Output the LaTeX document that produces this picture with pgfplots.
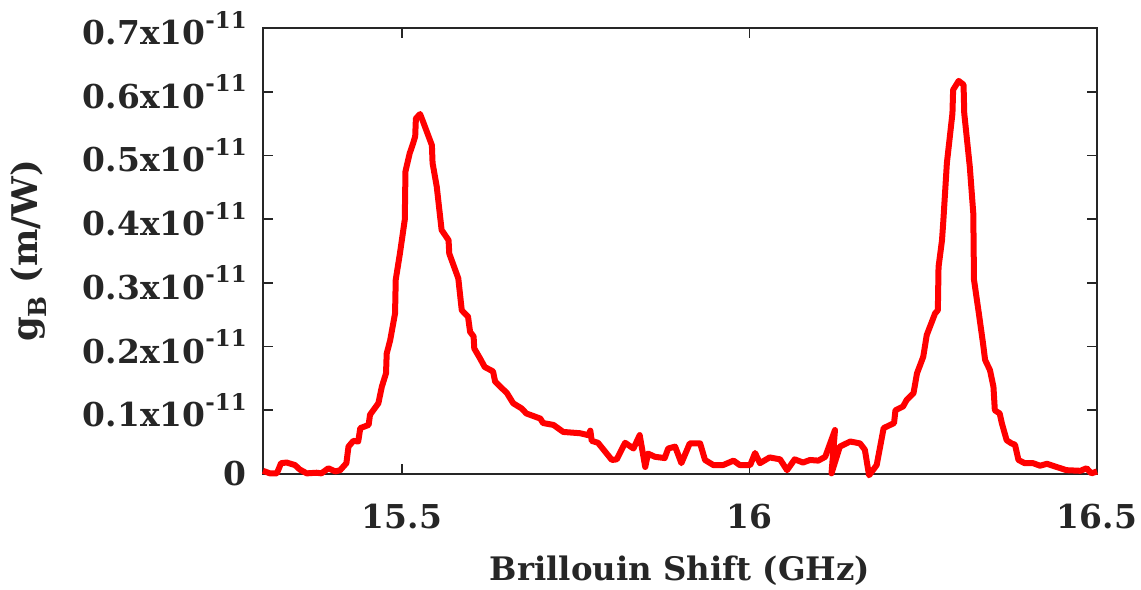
\documentclass[border=0pt]{standalone}
\usepackage{pgfplots}
\pgfplotsset{compat=1.18}
\usepackage{pgfplotstable}
\usepackage{graphicx}
\usepackage{fontspec}
\setmainfont{DejaVu Serif}
\definecolor{axgray}{HTML}{262626}
\newcommand{\ee}[1]{#1x10\raisebox{0.50em}{\fontsize{23}{23}\selectfont -11}}

\pgfplotstableread{
x y
15.300 0.05
15.310 0.01
15.320 0.01
15.326 0.17
15.334 0.18
15.346 0.14
15.353 0.07
15.363 0.01
15.377 0.02
15.384 0.01
15.394 0.09
15.404 0.04
15.411 0.06
15.420 0.17
15.423 0.43
15.430 0.52
15.437 0.51
15.440 0.72
15.452 0.77
15.454 0.93
15.466 1.11
15.471 1.37
15.477 1.58
15.478 1.89
15.483 2.10
15.490 2.52
15.491 3.05
15.497 3.46
15.504 3.99
15.505 4.75
15.511 5.03
15.516 5.19
15.519 5.30
15.520 5.58
15.526 5.65
15.531 5.51
15.543 5.16
15.544 4.88
15.550 4.51
15.557 3.83
15.567 3.67
15.568 3.46
15.581 3.07
15.586 2.57
15.595 2.47
15.598 2.23
15.603 2.16
15.604 1.97
15.612 1.82
15.619 1.68
15.631 1.61
15.634 1.45
15.651 1.27
15.660 1.11
15.672 1.03
15.679 0.95
15.699 0.87
15.703 0.80
15.718 0.77
15.732 0.66
15.756 0.64
15.768 0.61
15.771 0.68
15.773 0.52
15.782 0.49
15.802 0.22
15.809 0.23
15.821 0.49
15.833 0.40
15.842 0.61
15.850 0.11
15.854 0.32
15.864 0.27
15.878 0.25
15.883 0.40
15.893 0.43
15.902 0.17
15.914 0.48
15.924 0.48
15.929 0.48
15.936 0.22
15.948 0.14
15.962 0.14
15.977 0.21
15.986 0.14
16.001 0.14
16.008 0.33
16.015 0.17
16.029 0.26
16.044 0.23
16.054 0.06
16.065 0.23
16.077 0.18
16.087 0.22
16.099 0.21
16.109 0.27
16.123 0.69
16.118 0.01
16.130 0.43
16.145 0.51
16.159 0.48
16.166 0.38
16.172 -0.02
16.183 0.14
16.193 0.72
16.208 0.80
16.210 1.00
16.221 1.06
16.226 1.16
16.236 1.27
16.241 1.58
16.250 1.84
16.255 2.18
16.267 2.52
16.271 2.57
16.272 3.25
16.277 3.67
16.279 3.99
16.284 4.88
16.292 5.66
16.293 6.03
16.301 6.17
16.308 6.11
16.309 5.66
16.317 4.82
16.322 4.09
16.323 3.05
16.330 2.52
16.336 2.05
16.339 1.79
16.346 1.63
16.351 1.37
16.353 1.00
16.360 0.95
16.363 0.80
16.370 0.53
16.377 0.48
16.382 0.46
16.387 0.22
16.396 0.17
16.408 0.17
16.418 0.13
16.428 0.16
16.442 0.11
16.456 0.06
16.476 0.05
16.485 0.09
16.492 0.01
16.500 0.04
}\gaindata

\begin{document}
\begin{tikzpicture}
\useasboundingbox (-263bp,-116bp) rectangle (878bp,474bp);
\begin{axis}[
  at={(0,0)}, anchor=south west,
  scale only axis, width=834bp, height=446bp,
  xmin=15.3, xmax=16.5, ymin=0, ymax=7,
  clip=false,
  axis line style={draw=axgray, line width=1.8bp},
  every tick/.style={draw=axgray, line width=1.8bp},
  major tick length=10bp,
  tick align=inside,
  xtick={15.5,16,16.5},
  xticklabels={15.5,16,16.5},
  ytick={0,1,2,3,4,5,6,7},
  yticklabels={0,\ee{0.1},\ee{0.2},\ee{0.3},\ee{0.4},\ee{0.5},\ee{0.6},\ee{0.7}},
  tick label style={font=\fontsize{33}{33}\selectfont\bfseries, text=axgray, inner sep=0pt},
  xticklabel style={anchor=base, yshift=-54bp},
  yticklabel style={anchor=east, xshift=-16bp},
  every axis x label/.style={at={(axis description cs:0.5,-0.2377)}, anchor=base, inner sep=0pt, font=\fontsize{32.5}{32.5}\selectfont\bfseries, text=axgray},
  every axis y label/.style={at={(axis description cs:-0.303,0.5)}, anchor=north, rotate=90, inner sep=0pt, font=\fontsize{35.5}{35.5}\selectfont\bfseries, text=axgray},
  xlabel={Brillouin Shift (GHz)},
  ylabel={g\textsubscript{B} (m/W)},
]
\addplot[color=red, line width=6bp, line join=round] table[x=x, y=y] {\gaindata};
\end{axis}
\end{tikzpicture}
\end{document}
